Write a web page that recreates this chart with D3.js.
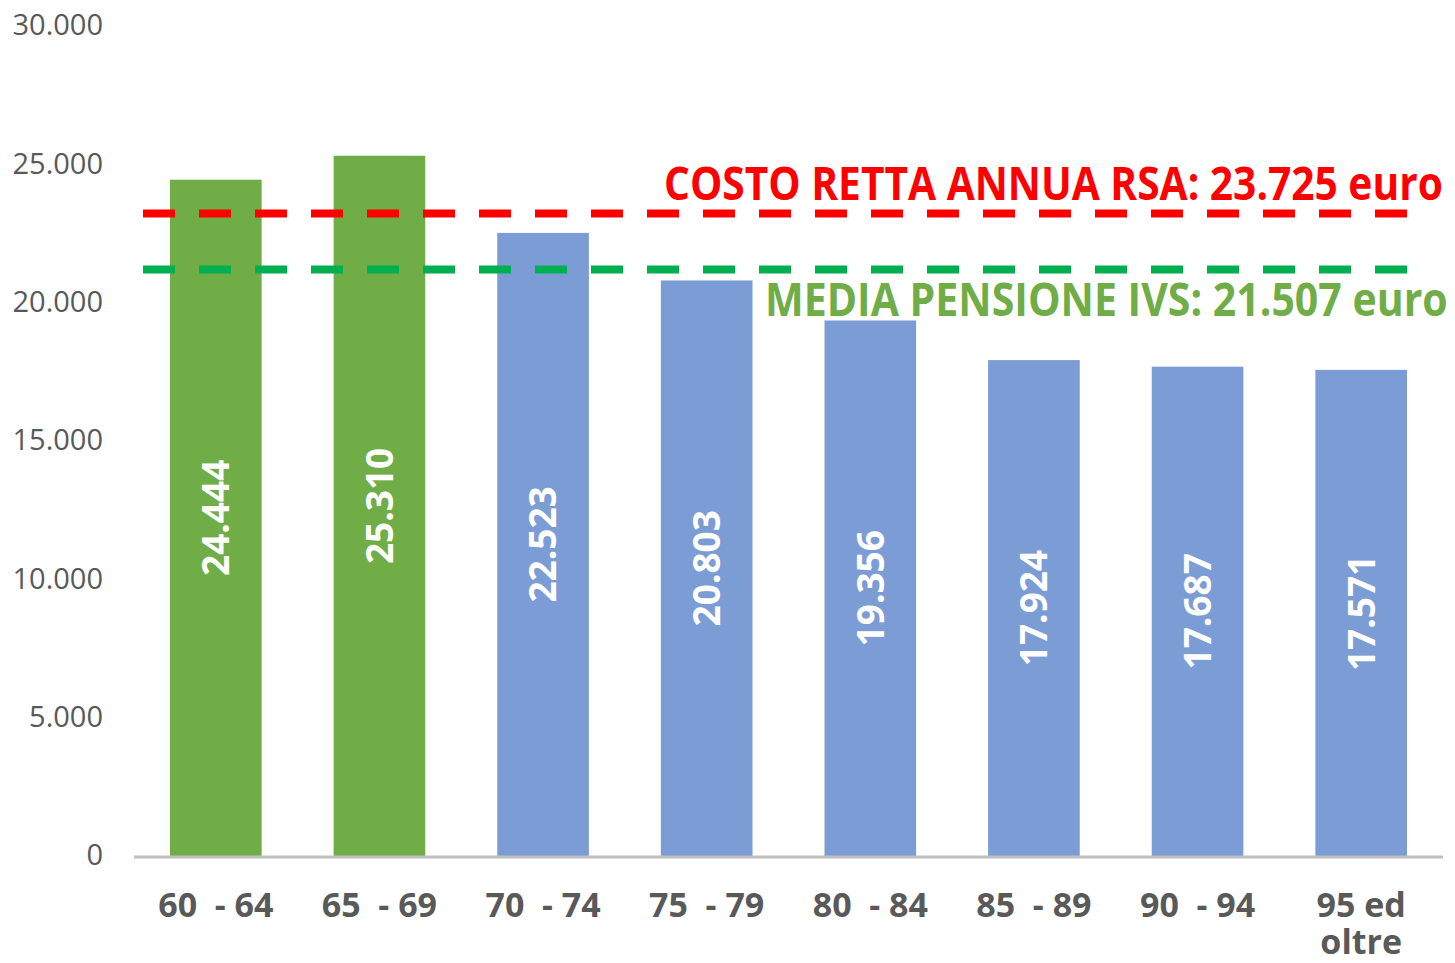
<!DOCTYPE html>
<html>
<head>
    <meta charset="UTF-8">
    <title>Pensione media vs retta RSA</title>
    <script src="https://d3js.org/d3.v7.min.js"></script>
    <style type="text/css">
      body{ margin:0; background-color: white; }
      svg{ display:block; background-color: white; font-family: "Open Sans", sans-serif; }
    </style>
</head>
<body>
    <svg id="chart"></svg>
    <script>
        // data
        const categories = ["60  - 64", "65  - 69", "70  - 74", "75  - 79", "80  - 84", "85  - 89", "90  - 94", "95 ed\noltre"];
        const values = [24444, 25310, 22523, 20803, 19356, 17924, 17687, 17571];
        const highlighted = [true, true, false, false, false, false, false, false];
        const yTicks = [0, 5000, 10000, 15000, 20000, 25000, 30000];
        // reference lines, at the level they are drawn in the picture
        const refLevels = [23220, 21200];
        const refLabels = ["COSTO RETTA ANNUA RSA: 23.725 euro", "MEDIA PENSIONE IVS: 21.507 euro"];

        const width = 1455, height = 963;
        const plot = {left:134, right:1443, top:26, bottom:856};

        const svg = d3.select("#chart")
          .attr("width", width)
          .attr("height", height);

        const fmt = d3.formatLocale({decimal:",", thousands:".", grouping:[3], currency:["","€"]}).format(",d");

        const y_scale = d3.scaleLinear()
          .domain([0, 30000])
          .range([plot.bottom, plot.top]);

        const x_scale = d3.scaleBand()
          .domain(categories)
          .range([plot.left, plot.right])
          .paddingInner(0.44)
          .paddingOuter(0.22);

        // y tick labels
        svg.append("g").selectAll("text")
          .data(yTicks)
          .enter().append("text")
          .attr("x", 103)
          .attr("y", d => y_scale(d) - 1)
          .attr("dy", "0.36em")
          .attr("text-anchor", "end")
          .style("font-size", "29px")
          .style("fill", "#595959")
          .text(d => fmt(d));

        // bars
        svg.append("g").selectAll("rect")
          .data(values)
          .enter().append("rect")
          .attr("x", (d, i) => x_scale(categories[i]))
          .attr("y", d => y_scale(d))
          .attr("width", x_scale.bandwidth())
          .attr("height", d => plot.bottom - y_scale(d))
          .style("fill", (d, i) => highlighted[i] ? "#70AD47" : "#7C9CD5");

        // value labels inside bars
        svg.append("g").selectAll("text")
          .data(values)
          .enter().append("text")
          .attr("transform", (d, i) => {
            const cx = x_scale(categories[i]) + x_scale.bandwidth() / 2;
            const cy = (y_scale(d) + plot.bottom) / 2;
            return `translate(${cx}, ${cy})rotate(-90)`;
          })
          .attr("text-anchor", "middle")
          .attr("dy", "0.36em")
          .style("font-size", "37px")
          .style("font-weight", "bold")
          .style("fill", "white")
          .text(d => fmt(d));

        // x axis line
        svg.append("line")
          .attr("x1", plot.left).attr("x2", plot.right)
          .attr("y1", plot.bottom + 1).attr("y2", plot.bottom + 1)
          .style("stroke", "#BFBFBF")
          .style("stroke-width", 3);

        // category labels, one text per line
        const labelLines = [];
        categories.forEach(c => c.split("\n").forEach((l, j) => labelLines.push({cat:c, text:l, line:j})));
        svg.append("g").selectAll("text")
          .data(labelLines)
          .enter().append("text")
          .attr("x", d => x_scale(d.cat) + x_scale.bandwidth() / 2)
          .attr("y", d => 917 + d.line * 37)
          .attr("text-anchor", "middle")
          .style("font-size", "34px")
          .style("font-weight", "bold")
          .style("fill", "#595959")
          .style("white-space", "pre")
          .text(d => d.text);

        // dashed reference lines
        const refColors = ["#FF0000", "#00B050"];
        svg.append("g").selectAll("line")
          .data(refLevels)
          .enter().append("line")
          .attr("x1", 143).attr("x2", 1410)
          .attr("y1", d => y_scale(d)).attr("y2", d => y_scale(d))
          .style("stroke", (d, i) => refColors[i])
          .style("stroke-width", 8)
          .style("stroke-dasharray", "32 24");

        // reference labels, squeezed horizontally to the picture's narrow face
        const refText = [
          {x:1443, y:200, len:779, color:"#FF0000"},
          {x:1448, y:316, len:683, color:"#70AD47"}
        ];
        svg.append("g").selectAll("text")
          .data(refLabels)
          .enter().append("text")
          .style("font-size", "46px")
          .style("font-weight", "bold")
          .style("fill", (d, i) => refText[i].color)
          .text(d => d)
          .each(function(d, i) {
            const w = this.getComputedTextLength();
            const s = refText[i].len / w;
            d3.select(this).attr("transform",
              `translate(${refText[i].x - refText[i].len}, ${refText[i].y})scale(${s}, 1)`);
          });
    </script>
</body>
</html>
